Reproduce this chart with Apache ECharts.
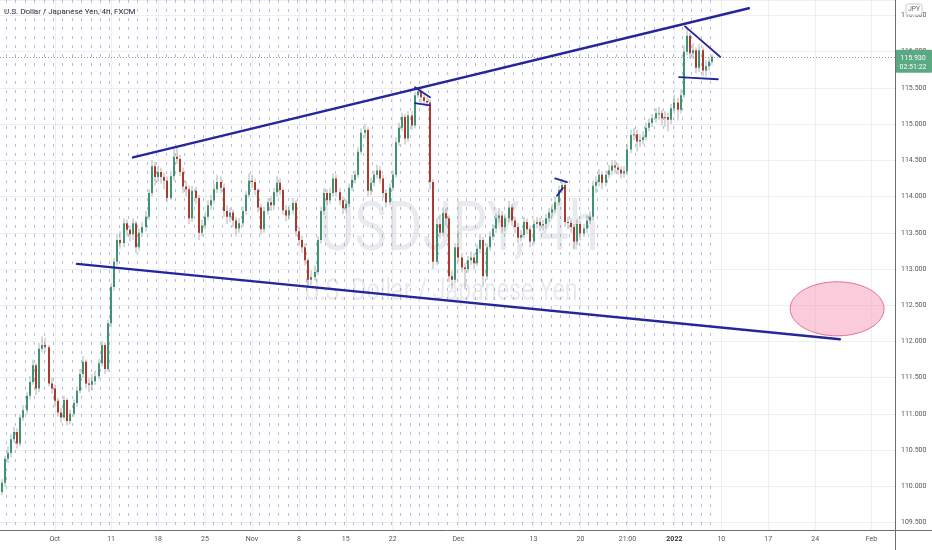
<!DOCTYPE html>
<html><head><meta charset="utf-8">
<script src="https://cdn.jsdelivr.net/npm/echarts@6/dist/echarts.min.js"></script>
<style>html,body{margin:0;padding:0;background:#fff}#c{width:932px;height:550px}</style>
</head><body><div id="c"></div>
<script>
// ---- DATA (USDJPY, 4h chart, sampled as 8h candles) ----
const opens = [
109.92,110.05,110.38,110.46,110.65,110.75,110.59,110.95,111.05,111.25,
111.44,111.67,111.35,111.90,111.95,111.92,111.42,111.35,111.18,111.02,
110.95,111.19,110.90,111.00,111.15,111.32,111.55,111.72,111.42,111.40,
111.45,111.52,111.70,111.95,111.62,112.25,112.75,113.10,113.40,113.36,
113.63,113.54,113.48,113.63,113.30,113.50,113.58,113.72,114.05,114.42,
114.27,114.34,114.27,114.22,113.98,114.28,114.55,114.52,114.34,114.14,
114.10,113.70,114.08,113.98,113.50,113.60,113.72,113.88,113.95,114.10,
114.20,114.12,113.80,113.72,113.78,113.67,113.56,113.63,113.80,114.02,
114.22,114.20,114.09,113.85,113.55,113.80,113.92,113.88,114.06,114.19,
114.09,113.81,113.74,113.81,113.91,113.52,113.40,113.30,113.12,112.85,
112.89,112.96,113.40,113.80,114.05,113.95,114.05,114.25,114.06,113.95,
113.84,113.90,114.12,114.23,114.30,114.62,114.88,114.92,114.08,114.19,
114.30,114.36,114.25,114.05,113.92,114.12,114.30,114.75,114.95,115.10,
114.80,115.12,114.98,115.40,115.45,115.37,115.32,115.30,114.20,113.10,
113.62,113.50,113.77,113.70,112.90,112.85,113.30,113.16,113.02,113.00,
113.12,113.16,113.08,113.28,113.40,112.90,113.30,113.45,113.56,113.70,
113.74,113.58,113.70,113.85,113.67,113.58,113.43,113.47,113.65,113.55,
113.38,113.62,113.65,113.60,113.62,113.70,113.78,113.82,113.92,114.09,
114.16,113.65,113.64,113.58,113.38,113.62,113.49,113.56,113.67,113.72,
114.15,114.20,114.30,114.19,114.30,114.36,114.43,114.40,114.37,114.32,
114.35,114.65,114.85,114.86,114.76,114.78,114.82,114.95,115.02,115.08,
115.15,115.15,115.08,115.10,115.06,115.22,115.30,115.20,115.40,116.00,
116.22,115.98,116.02,115.78,116.02,115.74,115.80,115.86];
const closes = [
110.05,110.38,110.46,110.65,110.75,110.59,110.95,111.05,111.25,111.44,
111.67,111.35,111.90,111.95,111.92,111.42,111.35,111.18,111.02,110.95,
111.19,110.90,111.00,111.15,111.32,111.55,111.72,111.42,111.40,111.45,
111.52,111.70,111.95,111.62,112.25,112.75,113.10,113.40,113.36,113.63,
113.54,113.48,113.63,113.30,113.50,113.58,113.72,114.05,114.42,114.27,
114.34,114.27,114.22,113.98,114.28,114.55,114.52,114.34,114.14,114.10,
113.70,114.08,113.98,113.50,113.60,113.72,113.88,113.95,114.10,114.20,
114.12,113.80,113.72,113.78,113.67,113.56,113.63,113.80,114.02,114.22,
114.20,114.09,113.85,113.55,113.80,113.92,113.88,114.06,114.19,114.09,
113.81,113.74,113.81,113.91,113.52,113.40,113.30,113.12,112.85,112.89,
112.96,113.40,113.80,114.05,113.95,114.05,114.25,114.06,113.95,113.84,
113.90,114.12,114.23,114.30,114.62,114.88,114.92,114.08,114.19,114.30,
114.36,114.25,114.05,113.92,114.12,114.30,114.75,114.95,115.10,114.80,
115.12,114.98,115.40,115.45,115.37,115.32,115.30,114.20,113.10,113.62,
113.50,113.77,113.70,112.90,112.85,113.30,113.16,113.02,113.00,113.12,
113.16,113.08,113.28,113.40,112.90,113.30,113.45,113.56,113.70,113.74,
113.58,113.70,113.85,113.67,113.58,113.43,113.47,113.65,113.55,113.38,
113.62,113.65,113.60,113.62,113.70,113.78,113.82,113.92,114.09,114.16,
113.65,113.64,113.58,113.38,113.62,113.49,113.56,113.67,113.72,114.15,
114.20,114.30,114.19,114.30,114.36,114.43,114.40,114.37,114.32,114.35,
114.65,114.85,114.86,114.76,114.78,114.82,114.95,115.02,115.08,115.15,
115.15,115.08,115.10,115.06,115.22,115.30,115.20,115.40,116.00,116.22,
115.98,116.02,115.78,116.02,115.74,115.80,115.86,115.93];
const highs = [
110.10,110.42,110.55,110.72,110.82,110.80,110.99,111.12,111.30,111.52,
111.75,111.70,111.98,112.07,112.05,111.95,111.50,111.40,111.22,111.08,
111.25,111.22,111.06,111.20,111.38,111.62,111.80,111.75,111.50,111.55,
111.60,111.76,112.00,111.98,112.30,112.80,113.15,113.48,113.52,113.70,
113.68,113.60,113.70,113.66,113.56,113.65,113.80,114.10,114.50,114.48,
114.42,114.40,114.33,114.28,114.35,114.66,114.70,114.58,114.40,114.22,
114.15,114.15,114.14,114.02,113.68,113.78,113.95,114.02,114.18,114.30,
114.28,114.18,113.88,113.85,113.82,113.72,113.70,113.86,114.08,114.32,
114.30,114.25,114.12,113.90,113.86,113.98,114.00,114.12,114.28,114.25,
114.12,113.88,113.88,113.98,113.95,113.58,113.46,113.35,113.15,112.98,
113.05,113.45,113.86,114.12,114.10,114.12,114.32,114.30,114.12,114.00,
113.96,114.18,114.30,114.36,114.68,114.94,115.00,114.96,114.26,114.36,
114.44,114.42,114.30,114.10,114.18,114.36,114.82,115.02,115.16,115.14,
115.18,115.18,115.45,115.52,115.50,115.42,115.38,115.34,114.24,113.70,
113.75,113.85,113.84,113.74,112.98,113.36,113.52,113.22,113.08,113.18,
113.24,113.22,113.34,113.48,113.44,113.35,113.52,113.62,113.76,113.84,
113.80,113.76,113.94,113.90,113.72,113.64,113.54,113.72,113.70,113.60,
113.68,113.72,113.70,113.68,113.76,113.84,113.90,114.00,114.15,114.25,
114.20,113.72,113.70,113.62,113.68,113.66,113.62,113.74,113.80,114.22,
114.28,114.38,114.35,114.36,114.44,114.50,114.50,114.46,114.42,114.42,
114.72,114.92,114.95,114.92,114.86,114.90,115.02,115.08,115.14,115.22,
115.24,115.20,115.18,115.16,115.28,115.40,115.36,115.48,116.08,116.35,
116.26,116.12,116.06,116.10,116.06,115.88,115.92,115.96];
const lows = [
109.88,110.00,110.32,110.40,110.60,110.52,110.55,110.90,111.00,111.20,
111.40,111.26,111.30,111.85,111.85,111.38,111.28,111.10,110.96,110.88,
110.92,110.84,110.85,110.96,111.10,111.28,111.50,111.35,111.30,111.32,
111.40,111.48,111.66,111.55,111.58,112.20,112.70,113.05,113.28,113.30,
113.45,113.38,113.40,113.22,113.25,113.44,113.52,113.68,114.00,114.15,
114.20,114.18,114.10,113.92,113.95,114.22,114.45,114.28,114.05,114.00,
113.62,113.65,113.90,113.40,113.45,113.55,113.68,113.82,113.90,114.05,
114.05,113.72,113.62,113.65,113.58,113.45,113.50,113.58,113.75,113.98,
114.12,114.02,113.78,113.48,113.50,113.75,113.80,113.82,114.00,114.02,
113.75,113.66,113.68,113.76,113.45,113.32,113.22,113.05,112.76,112.78,
112.84,112.92,113.35,113.75,113.88,113.90,114.00,114.00,113.88,113.76,
113.78,113.85,114.08,114.18,114.26,114.58,114.80,114.00,114.02,114.14,
114.25,114.18,113.98,113.85,113.88,114.08,114.26,114.70,114.90,114.72,
114.76,114.92,114.94,115.36,115.30,115.26,115.24,114.10,113.00,113.05,
113.42,113.45,113.60,112.82,112.72,112.80,113.10,112.95,112.72,112.95,
113.06,113.00,113.04,113.22,112.75,112.85,113.25,113.40,113.50,113.64,
113.50,113.52,113.64,113.60,113.50,113.36,113.38,113.42,113.48,113.30,
113.34,113.56,113.52,113.54,113.56,113.65,113.72,113.78,113.88,114.04,
113.58,113.55,113.50,113.28,113.33,113.40,113.44,113.50,113.62,113.68,
114.05,114.14,114.10,114.14,114.25,114.30,114.32,114.30,114.25,114.26,
114.30,114.60,114.78,114.62,114.68,114.72,114.78,114.90,114.96,115.02,
115.06,114.98,114.96,114.90,115.00,115.15,115.05,115.15,115.36,115.95,
115.90,115.90,115.70,115.72,115.66,115.66,115.74,115.82];

const tickLabels = [
['2021-10-01','Oct'],['2021-10-11','11'],['2021-10-18','18'],['2021-10-25','25'],
['2021-11-01','Nov'],['2021-11-08','8'],['2021-11-15','15'],['2021-11-22','22'],
['2021-12-01','Dec'],['2021-12-13','13'],['2021-12-20','20'],['2021-12-27','21:00'],
['2022-01-03','2022'],['2022-01-10','10'],['2022-01-17','17'],['2022-01-24','24'],
['2022-02-01','Feb']];

// drawn trend lines in data terms: [slotA, priceA, slotB, priceB]
const channelLines = [
[42.0, 114.54, 238.8, 116.60],
[24.1, 113.07, 267.9, 112.03]];
const patternLines = [
[132.1, 115.51, 136.9, 115.37],
[132.1, 115.29, 136.9, 115.26],
[176.9, 114.25, 180.7, 114.20],
[177.5, 114.01, 179.4, 114.12],
[218.4, 116.35, 229.6, 115.93],
[216.5, 115.65, 228.9, 115.62]];
// target zone ellipse: centre slot, centre price, half-width in slots, half-height in price
const targetZone = [267.0, 112.45, 15.0, 0.373];

const lastPrice = 115.930;
const countdown = '02:51:22';
const titleText = 'U.S. Dollar / Japanese Yen, 4h, FXCM';
const watermark1 = 'USDJPY, 4h';
const watermark2 = 'U.S. Dollar / Japanese Yen';

// ---- trading calendar (weekdays), 3 slots per day ----
const days = [];
for (let t = Date.UTC(2021, 8, 23); t <= Date.UTC(2022, 1, 3); t += 86400000) {
  const dt = new Date(t), wd = dt.getUTCDay();
  if (wd === 0 || wd === 6) continue;
  days.push(dt.toISOString().slice(0, 10));
}
const categories = [], slotDay = [], slotPart = [];
days.forEach((d, di) => {
  for (let k = 0; k < 3; k++) {
    if (di === 0 && k === 0) continue;
    categories.push(d + ' ' + ['00:00', '08:00', '16:00'][k]);
    slotDay.push(d); slotPart.push(k);
  }
});
categories.length = 286;
const tickMap = Object.fromEntries(tickLabels);
const labelAt = {};
categories.forEach((c, i) => { if (slotPart[i] === 0 && tickMap[slotDay[i]]) labelAt[i] = tickMap[slotDay[i]]; });
const lastSlot = closes.length - 1;
const isSep = i => slotPart[i] === 0 && i <= lastSlot;

const candleData = closes.map((c, i) => [i, opens[i], c, lows[i], highs[i]]);

const UP = '#3f9470', DOWN = '#ab3b2d', WICK = 'rgba(125,125,125,0.6)', NAVY = '#25259c';
const FONT = 'Roboto, sans-serif';

function coordAt(api, s, p) {
  const s0 = Math.floor(s);
  const base = api.coord([s0, p]);
  const band = api.size([1, 0])[0];
  return [base[0] + (s - s0) * band, base[1]];
}

const allLines = channelLines.map(l => ({l, w: 2.4})).concat(patternLines.map(l => ({l, w: 1.8})));

const chart = echarts.init(document.getElementById('c'));
const option = {
  animation: false,
  grid: {left: 0, right: 37, top: 0, bottom: 20},
  xAxis: [{
    type: 'category', data: categories, boundaryGap: true,
    axisLine: {show: true, lineStyle: {color: '#6e6e6e', width: 1}},
    axisTick: {show: false},
    axisLabel: {
      interval: (i) => labelAt[i] !== undefined,
      formatter: (v, i) => labelAt[i] === '2022' ? '{b|2022}' : (labelAt[i] || ''),
      fontSize: 7, color: '#555', margin: 6, fontFamily: FONT,
      rich: {b: {fontSize: 7, fontWeight: 'bold', color: '#333', fontFamily: FONT}}
    },
    splitLine: {show: true, alignWithLabel: true, interval: (i) => labelAt[i] !== undefined,
      lineStyle: {color: 'rgba(42,46,57,0.07)', width: 1}}
  }, {
    type: 'category', data: categories, boundaryGap: true, gridIndex: 0,
    axisLine: {show: false}, axisTick: {show: false}, axisLabel: {show: false},
    splitLine: {show: true, interval: (i) => isSep(i),
      lineStyle: {color: 'rgba(105,115,225,0.5)', type: [3, 6], width: 1}}
  }],
  yAxis: {
    type: 'value', position: 'right', min: 109.396, max: 116.714, splitNumber: 14,
    axisLine: {show: true, lineStyle: {color: '#6e6e6e', width: 1}},
    axisTick: {show: false},
    axisLabel: {
      fontSize: 7, color: '#555', margin: 6, fontFamily: FONT,
      showMinLabel: false, showMaxLabel: false,
      formatter: v => Math.abs(v * 2 - Math.round(v * 2)) < 1e-6 ? v.toFixed(3) : ''
    },
    splitLine: {show: true, lineStyle: {color: 'rgba(42,46,57,0.08)', width: 1}}
  },
  series: [{
    type: 'custom', name: 'USDJPY', z: 3,
    data: candleData,
    encode: {x: 0, y: [1, 2, 3, 4]},
    renderItem: (params, api) => {
      const i = api.value(0), o = api.value(1), c = api.value(2), l = api.value(3), h = api.value(4);
      const pO = api.coord([i, o]), pC = api.coord([i, c]), pL = api.coord([i, l]), pH = api.coord([i, h]);
      const band = api.size([1, 0])[0];
      const bw = Math.max(1, Math.round(band * 0.62));
      const left = Math.round(pO[0] - bw / 2);
      const top = Math.min(pO[1], pC[1]);
      const ht = Math.max(1, Math.abs(pO[1] - pC[1]));
      return {type: 'group', children: [
        {type: 'line', shape: {x1: left + bw / 2, y1: pH[1], x2: left + bw / 2, y2: pL[1]}, style: {stroke: WICK, lineWidth: 1}},
        {type: 'rect', shape: {x: left, y: top, width: bw, height: ht}, style: {fill: c >= o ? UP : DOWN}}
      ]};
    }
  }, {
    type: 'custom', name: 'priceLine', z: 2, silent: true,
    data: [[0, lastPrice]],
    encode: {x: 0, y: 1},
    renderItem: (params, api) => {
      const p = api.coord([0, lastPrice]);
      const cs = params.coordSys;
      return {type: 'line', shape: {x1: cs.x, y1: Math.round(p[1]) + 0.5, x2: cs.x + cs.width, y2: Math.round(p[1]) + 0.5},
        style: {stroke: 'rgba(110,110,110,0.7)', lineWidth: 1, lineDash: [1, 2]}};
    }
  }, {
    type: 'custom', name: 'zone', z: 4, silent: true,
    data: [[Math.round(targetZone[0]), targetZone[1]]],
    encode: {x: 0, y: 1},
    renderItem: (params, api) => {
      const c0 = coordAt(api, targetZone[0], targetZone[1]);
      const band = api.size([1, 0])[0];
      const rx = targetZone[2] * band;
      const ry = Math.abs(api.coord([0, targetZone[1] + targetZone[3]])[1] - c0[1]);
      const pts = [];
      for (let k = 0; k < 120; k++) {
        const a = k / 120 * Math.PI * 2;
        pts.push([c0[0] + rx * Math.cos(a), c0[1] + ry * Math.sin(a)]);
      }
      return {type: 'polygon', shape: {points: pts}, style: {fill: 'rgba(245,140,175,0.45)', stroke: '#e06b95', lineWidth: 1}};
    }
  }, {
    type: 'custom', name: 'drawings', z: 5, silent: true,
    data: allLines.map(d => [Math.round(d.l[0]), d.l[1]]),
    encode: {x: 0, y: 1},
    renderItem: (params, api) => {
      const d = allLines[params.dataIndex];
      const a = coordAt(api, d.l[0], d.l[1]), b = coordAt(api, d.l[2], d.l[3]);
      return {type: 'line', shape: {x1: a[0], y1: a[1], x2: b[0], y2: b[1]},
        style: {stroke: NAVY, lineWidth: d.w, lineCap: 'round'}};
    }
  }]
};
chart.setOption(option);

const py = chart.convertToPixel({yAxisIndex: 0}, lastPrice);
chart.setOption({graphic: [
  {type: 'text', z: 1, silent: true, x: 459, y: 233, scaleX: 0.8,
    style: {text: watermark1, font: '68px Roboto', fill: 'rgba(120,123,134,0.16)', textAlign: 'center', textVerticalAlign: 'middle'}},
  {type: 'text', z: 1, silent: true, x: 441, y: 292, scaleX: 0.75,
    style: {text: watermark2, font: '31px Roboto', fill: 'rgba(120,123,134,0.16)', textAlign: 'center', textVerticalAlign: 'middle'}},
  {type: 'text', z: 100, silent: true, x: 4, y: 12,
    style: {text: titleText, font: '8px Roboto', fill: '#2a2e39', textAlign: 'left', textVerticalAlign: 'middle'}},
  {type: 'line', z: 100, silent: true, shape: {x1: 895, y1: 530.5, x2: 932, y2: 530.5}, style: {stroke: '#6e6e6e', lineWidth: 1}},
  {type: 'line', z: 100, silent: true, shape: {x1: 895.5, y1: 530, x2: 895.5, y2: 550}, style: {stroke: '#6e6e6e', lineWidth: 1}},
  {type: 'rect', z: 100, silent: true, shape: {x: 906, y: 4, width: 16, height: 11, r: 2}, style: {fill: '#fff', stroke: '#c9c9c9', lineWidth: 1}},
  {type: 'text', z: 101, silent: true, x: 914, y: 9.5,
    style: {text: 'JPY', font: '6.5px Roboto', fill: '#666', textAlign: 'center', textVerticalAlign: 'middle'}},
  {type: 'rect', z: 100, silent: true, shape: {x: 896, y: py - 7, width: 36, height: 23, r: 1}, style: {fill: '#5aa982'}},
  {type: 'text', z: 101, silent: true, x: 913, y: py + 1,
    style: {text: lastPrice.toFixed(3), font: '7px Roboto', fill: '#fff', textAlign: 'center', textVerticalAlign: 'middle'}},
  {type: 'text', z: 101, silent: true, x: 913, y: py + 10,
    style: {text: countdown, font: '7px Roboto', fill: '#fff', textAlign: 'center', textVerticalAlign: 'middle'}}
]});
</script>
</body></html>
